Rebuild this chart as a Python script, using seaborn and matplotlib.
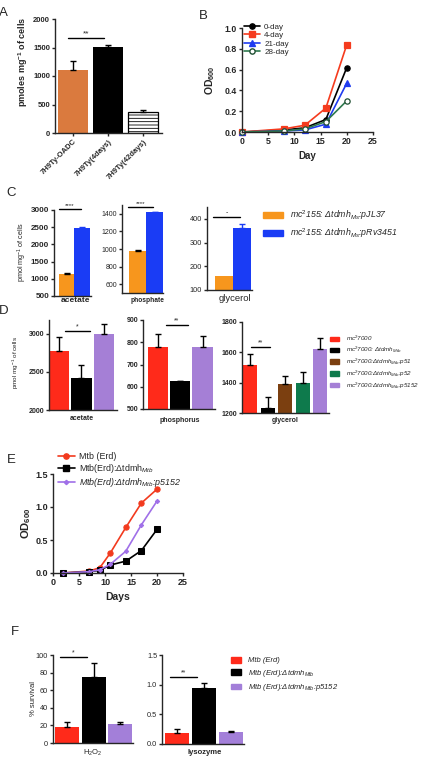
import numpy as np
import pandas as pd
import matplotlib
matplotlib.use('Agg')
import matplotlib.pyplot as plt
import seaborn as sns
from matplotlib.lines import Line2D
from matplotlib.patches import Patch

# ---------------- data ----------------
catsA = ['7H9Ty-OADC', '7H9Ty(4days)', '7H9Ty(42days)']
valsA = [1110, 1510, 370]
errA = [160, 35, 25]

daysB = [0, 8, 12, 16, 20]
od0 = [0.0, 0.02, 0.04, 0.12, 0.62]
od4 = [0.0, 0.03, 0.065, 0.23, 0.84]
od21 = [0.0, 0.01, 0.02, 0.075, 0.47]
od28 = [0.0, 0.01, 0.03, 0.10, 0.30]
seriesB = ['0-day', '4-day', '21-day', '28-day']

catsC = ['mc$^{\\mathit{2}}$155: Δtdmh$_{\\mathit{Ms}}$:pJL37',
         'mc$^{\\mathit{2}}$155: Δtdmh$_{\\mathit{Ms}}$:pRv3451']
acetC = [1130, 2480]
acetCerr = [45, 40]
phosC = [975, 1415]
phosCerr = [15, 6]
glycC = [160, 362]
glycCerr = [0, 18]

catsD = ['mc$^{\\mathit{2}}$7000',
         'mc$^{\\mathit{2}}$7000: Δtdmh$_{\\mathit{Mtb}}$',
         'mc$^{\\mathit{2}}$7000:Δtdmh$_{\\mathit{Mtb}}$:p51',
         'mc$^{\\mathit{2}}$7000:Δtdmh$_{\\mathit{Mtb}}$:p52',
         'mc$^{\\mathit{2}}$7000:Δtdmh$_{\\mathit{Mtb}}$:p5152']
acetD = [2776, 2417, 3000]
acetDerr = [175, 170, 127]
phosD = [777, 626, 780]
phosDerr = [59, 2, 48]
glycD = [1516, 1231, 1391, 1396, 1622]
glycDerr = [71, 76, 55, 72, 74]

daysE = [2, 7, 9, 11, 14, 17, 20]
odErd = [0.0, 0.03, 0.08, 0.30, 0.69, 1.06, 1.27]
odDel = [0.0, 0.02, 0.04, 0.12, 0.18, 0.34, 0.66]
odComp = [0.0, 0.02, 0.05, 0.13, 0.33, 0.73, 1.09]
seriesE = ['Mtb (Erd)', 'Mtb(Erd):Δtdmh$_{Mtb}$', 'Mtb(Erd):Δtdmh$_{\\mathit{Mtb}}$:p5152']

catsF = ['Mtb (Erd)', 'Mtb (Erd):Δtdmh$_{\\mathit{Mtb}}$', 'Mtb (Erd):Δtdmh$_{\\mathit{Mtb}}$:p5152']
h2o2F = [17.8, 74.6, 21.6]
h2o2Ferr = [6.4, 16.7, 1.9]
lysoF = [0.19, 0.94, 0.207]
lysoFerr = [0.057, 0.08, 0.008]

# ---------------- style ----------------
sns.set_style('ticks')
plt.rcParams['font.family'] = ['Liberation Sans', 'DejaVu Sans']
plt.rcParams['mathtext.fontset'] = 'custom'
plt.rcParams['mathtext.rm'] = 'Liberation Sans'
plt.rcParams['mathtext.it'] = 'Liberation Sans:italic'
plt.rcParams['mathtext.bf'] = 'Liberation Sans:bold'
plt.rcParams['hatch.linewidth'] = 0.6

W, H = 423, 769
fig = plt.figure(figsize=(W / 100, H / 100), dpi=100)


def box(l, t, r, b):
    return fig.add_axes([l / W, 1 - b / H, (r - l) / W, (b - t) / H])


def style(ax, fs=5.5, bold=True):
    sns.despine(ax=ax)
    for s in ('left', 'bottom'):
        ax.spines[s].set_linewidth(1.0)
    ax.tick_params(width=1.0, length=2.5, labelsize=fs, pad=1, direction='out')
    if bold:
        for lab in ax.get_xticklabels() + ax.get_yticklabels():
            lab.set_fontweight('bold')


def bars(ax, cats, vals, errs, colors, width, errcolors=None):
    pal = dict(zip(cats, colors))
    sns.barplot(x=cats, y=vals, hue=cats, palette=pal, saturation=1, width=width,
                legend=False, ax=ax, errorbar=None, linewidth=0)
    for i, (v, e) in enumerate(zip(vals, errs)):
        ec = errcolors[i] if errcolors else 'black'
        if e > 0:
            ax.errorbar([i], [v], yerr=[[0], [e]], fmt='none', ecolor=ec,
                        elinewidth=1.0, capsize=2.5, capthick=1.0, clip_on=False)
    ax.set_xlabel('')
    ax.set_ylabel('')


def sig(ax, x0, x1, y, txt, fs=5):
    ax.plot([x0, x1], [y, y], color='black', lw=1.0, clip_on=False)
    ax.annotate(txt, ((x0 + x1) / 2, y), xytext=(0, 0.5), textcoords='offset points',
                ha='center', va='bottom', fontsize=fs, annotation_clip=False)


def ftext(x, y, s, **kw):
    fig.text(x / W, 1 - y / H, s, **kw)


def flegend(handles, labels, x, y, **kw):
    fig.legend(handles, labels, loc='upper left', bbox_to_anchor=(x / W, 1 - y / H),
               frameon=False, borderpad=0, borderaxespad=0, **kw)


# ---------------- A ----------------
axA = box(55, 19, 162, 133)
bars(axA, catsA, valsA, errA, ['#DA7A3E', '#000000', '#FFFFFF'], 0.86)
p = axA.patches[2]
p.set_hatch('-----')
p.set_edgecolor('black')
p.set_linewidth(0.9)
axA.set_xlim(-0.52, 2.54)
axA.set_ylim(0, 2000)
axA.set_yticks([0, 500, 1000, 1500, 2000])
axA.set_xticks(range(3))
axA.set_xticklabels(catsA, rotation=45, ha='right', rotation_mode='anchor')
sig(axA, -0.14, 0.89, 1660, '**', fs=6)
style(axA, fs=5.5)
ftext(23, 62, 'pmoles mg$^{\\mathbf{-1}}$ of cells', rotation=90, ha='center', va='center',
      fontsize=6.5, fontweight='bold')

# ---------------- B ----------------
axB = box(242, 28, 373, 132)
colB = ['#000000', '#F53B1E', '#1F3BF0', '#2F7A4F']
mkB = ['o', 's', '^', 'o']
valsB = [od0, od4, od21, od28]
for name, vals, c, m in zip(seriesB, valsB, colB, mkB):
    mfc = 'white' if name == '28-day' else c
    mec = '#1F4F33' if name == '28-day' else c
    sns.lineplot(x=daysB, y=vals, color=c, marker=m, markersize=3.8, mfc=mfc, mec=mec,
                 mew=0.9, linewidth=1.2, ax=axB, clip_on=False)
axB.set_xlim(0, 25)
axB.set_ylim(0, 1.0)
axB.set_xticks([0, 5, 10, 15, 20, 25])
axB.set_yticks([0.0, 0.2, 0.4, 0.6, 0.8, 1.0])
axB.set_yticklabels(['0.0', '0.2', '0.4', '0.6', '0.8', '1.0'])
axB.set_xlabel('')
axB.set_ylabel('')
style(axB, fs=6.3)
ftext(307, 156, 'Day', ha='center', va='center', fontsize=7, fontweight='bold')
ftext(210, 80, 'OD$_{\\mathbf{600}}$', rotation=90, ha='center', va='center', fontsize=7.5,
      fontweight='bold')
hB = [Line2D([], [], color=c, marker=m, markersize=3.8, lw=1.2,
             mfc=('white' if n == '28-day' else c), mec=('#1F4F33' if n == '28-day' else c))
      for n, c, m in zip(seriesB, colB, mkB)]
flegend(hB, seriesB, 244, 23, fontsize=5.8, handlelength=2.0, labelspacing=0.1,
        handletextpad=0.5)

# ---------------- C ----------------
colC = ['#F7961D', '#1A3CF5']
errcC = ['black', '#1A3CF5']
axC1 = box(54, 210, 91, 296)
bars(axC1, catsC, acetC, acetCerr, colC, 1.0, errcC)
axC1.set_xlim(-0.81, 1.58)
axC1.set_ylim(500, 3000)
axC1.set_yticks([500, 1000, 1500, 2000, 2500, 3000])
axC1.set_xticks([])
sig(axC1, -0.48, 0.94, 3030, '****', fs=4.5)
style(axC1, fs=5.8)

axC2 = box(122, 205, 163, 293)
bars(axC2, catsC, phosC, phosCerr, colC, 1.0, errcC)
axC2.set_xlim(-0.886, 1.457)
axC2.set_ylim(500, 1500)
axC2.set_yticks([600, 800, 1000, 1200, 1400])
axC2.set_xticks([])
sig(axC2, -0.54, 0.89, 1480, '****', fs=4.5)
style(axC2, fs=5.0, bold=False)

axC3 = box(207, 207, 252, 290)
bars(axC3, catsC, glycC, glycCerr, colC, 1.0, errcC)
axC3.set_xlim(-0.917, 1.583)
axC3.set_ylim(100, 450)
axC3.set_yticks([100, 200, 300, 400])
axC3.set_xticks([])
sig(axC3, -0.58, 0.92, 408, '-', fs=5)
style(axC3, fs=5.3, bold=False)

ftext(75, 301, 'acetate', ha='center', va='center', fontsize=6, fontweight='bold')
ftext(147, 300, 'phosphate', ha='center', va='center', fontsize=4.8, fontweight='bold')
ftext(235, 298, 'glycerol', ha='center', va='center', fontsize=6.8)
ftext(22, 252, 'pmol mg$^{-1}$ of cells', rotation=90, ha='center', va='center', fontsize=5.2)
flegend([Patch(color=c) for c in colC], catsC, 263, 208, handlelength=2.3,
        handleheight=0.7, labelspacing=0.55, handletextpad=0.8, prop={'style': 'italic', 'size': 6.3})

# ---------------- D ----------------
colD = ['#FF2A1A', '#000000', '#7B3F10', '#0E7A4C', '#A57FD6']
axD1 = box(49, 320, 117, 410)
bars(axD1, [catsD[0], catsD[1], catsD[4]], acetD, acetDerr, [colD[0], colD[1], colD[4]], 0.92)
axD1.set_xlim(-0.44, 2.58)
axD1.set_ylim(2000, 3180)
axD1.set_yticks([2000, 2500, 3000])
axD1.set_xticks([])
sig(axD1, 0.27, 1.38, 3039, '*', fs=5)
style(axD1, fs=5.0)

axD2 = box(143, 320, 215, 409)
bars(axD2, [catsD[0], catsD[1], catsD[4]], phosD, phosDerr, [colD[0], colD[1], colD[4]], 0.9)
axD2.set_xlim(-0.67, 2.56)
axD2.set_ylim(500, 900)
axD2.set_yticks([500, 600, 700, 800, 900])
axD2.set_xticks([])
sig(axD2, 0.36, 1.35, 877, '**', fs=5)
style(axD2, fs=5.0)

axD3 = box(242, 322, 329, 413)
bars(axD3, catsD, glycD, glycDerr, colD, 0.8)
axD3.set_xlim(-0.46, 4.51)
axD3.set_ylim(1200, 1800)
axD3.set_yticks([1200, 1400, 1600, 1800])
axD3.set_xticks([])
sig(axD3, 0.06, 1.14, 1635, '**', fs=5)
style(axD3, fs=5.0)

ftext(82, 419, 'acetate', ha='center', va='center', fontsize=5, fontweight='bold')
ftext(180, 421, 'phosphorus', ha='center', va='center', fontsize=5, fontweight='bold')
ftext(285, 421, 'glycerol', ha='center', va='center', fontsize=5, fontweight='bold')
ftext(16, 362, 'pmol mg$^{-1}$ of cells', rotation=90, ha='center', va='center', fontsize=4.6)
flegend([Patch(color=c) for c in colD], catsD, 330, 334, handlelength=1.5,
        handleheight=0.7, labelspacing=0.25, handletextpad=1.0,
        prop={'style': 'italic', 'size': 4.5})

# ---------------- E ----------------
axE = box(53, 474, 183, 573)
colE = ['#F23A1E', '#000000', '#A070E8']
mkE = ['o', 's', 'D']
msE = [3.8, 3.8, 2.2]
for name, vals, c, m, ms in zip(seriesE, [odErd, odDel, odComp], colE, mkE, msE):
    sns.lineplot(x=daysE, y=vals, color=c, marker=m, markersize=ms, mec=c, mfc=c,
                 linewidth=1.2, ax=axE, clip_on=False)
axE.set_xlim(0, 25)
axE.set_ylim(0, 1.5)
axE.set_xticks([0, 5, 10, 15, 20, 25])
axE.set_yticks([0.0, 0.5, 1.0, 1.5])
axE.set_yticklabels(['0.0', '0.5', '1.0', '1.5'])
axE.set_xlabel('')
axE.set_ylabel('')
style(axE, fs=6.5)
ftext(118, 597, 'Days', ha='center', va='center', fontsize=7.5, fontweight='bold')
ftext(26, 523, 'OD$_{\\mathbf{600}}$', rotation=90, ha='center', va='center', fontsize=8,
      fontweight='bold')
hE = [Line2D([], [], color=c, marker=m, markersize=ms, lw=1.2) for c, m, ms in zip(colE, mkE, msE)]
legE = fig.legend(hE, seriesE, loc='upper left', bbox_to_anchor=(58 / W, 1 - 452 / H),
                  frameon=False, borderpad=0, borderaxespad=0, fontsize=6.4,
                  handlelength=1.9, labelspacing=0.12, handletextpad=0.5)
legE.get_texts()[2].set_style('italic')

# ---------------- F ----------------
colF = ['#FF2A1A', '#000000', '#A37FD9']
axF1 = box(53, 655, 133, 743)
bars(axF1, catsF, h2o2F, h2o2Ferr, colF, 0.9)
axF1.set_xlim(-0.52, 2.47)
axF1.set_ylim(0, 100)
axF1.set_yticks([0, 20, 40, 60, 80, 100])
axF1.set_xticks([])
sig(axF1, -0.26, 0.75, 97.7, '*', fs=5)
style(axF1, fs=5.3, bold=False)

axF2 = box(162, 655, 244, 744)
bars(axF2, catsF, lysoF, lysoFerr, colF, 0.9)
axF2.set_xlim(-0.58, 2.5)
axF2.set_ylim(0, 1.5)
axF2.set_yticks([0.0, 0.5, 1.0, 1.5])
axF2.set_yticklabels(['0.0', '0.5', '1.0', '1.5'])
axF2.set_xticks([])
sig(axF2, -0.28, 0.73, 1.13, '**', fs=5)
style(axF2, fs=5.3, bold=False)

ftext(93, 753, 'H$_2$O$_2$', ha='center', va='center', fontsize=5.5)
ftext(205, 753, 'lysozyme', ha='center', va='center', fontsize=5.5, fontweight='bold')
ftext(33, 698, '% survival', rotation=90, ha='center', va='center', fontsize=5.5)
flegend([Patch(color=c) for c in colF], catsF, 231, 657, handlelength=1.3,
        handleheight=0.75, labelspacing=0.45, handletextpad=0.9,
        prop={'style': 'italic', 'size': 5.5})

# ---------------- panel letters ----------------
for x, y, s in [(3, 13, 'A'), (203, 16, 'B'), (11, 193, 'C'), (4, 311, 'D'),
                (11, 460, 'E'), (15, 632, 'F')]:
    ftext(x, y, s, ha='center', va='center', fontsize=9.5)

fig.savefig('out.png', dpi=100)
